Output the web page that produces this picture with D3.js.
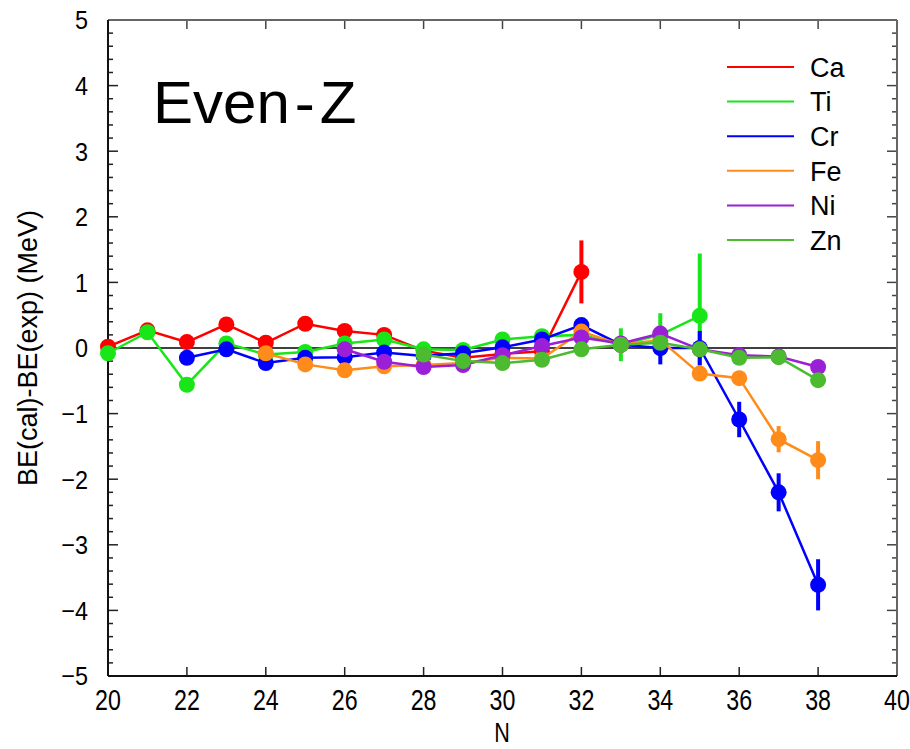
<!DOCTYPE html>
<html><head><meta charset="utf-8">
<script src="https://cdn.jsdelivr.net/npm/d3@7"></script>
<style>body{margin:0;background:#fff}</style>
</head><body>
<svg id="c" width="910" height="749"></svg>
<script>
const xTicks = [20,22,24,26,28,30,32,34,36,38,40];
const yTicks = [-5,-4,-3,-2,-1,0,1,2,3,4,5];
const elements = ["Ca","Ti","Cr","Fe","Ni","Zn"];
const colors = ["#ff0000","#19e619","#0000ff","#ff8c1a","#9b1fd6","#4cbb30"];

const caN = [20,21,22,23,24,25,26,27,28,29,30,31,32];
const caV = [0.02,0.27,0.09,0.36,0.08,0.37,0.26,0.20,-0.04,-0.15,-0.09,-0.05,1.16];
const caE = [0,0,0,0,0,0,0,0,0,0,0,0,0.48];

const tiN = [20,21,22,23,24,25,26,27,28,29,30,31,32,33,34,35];
const tiV = [-0.08,0.24,-0.56,0.07,-0.10,-0.06,0.07,0.13,-0.02,-0.03,0.13,0.18,0.20,0.05,0.20,0.49];
const tiE = [0,0,0,0,0,0,0,0,0,0,0,0,0,0.25,0.33,0.95];

const crN = [22,23,24,25,26,27,28,29,30,31,32,33,34,35,36,37,38];
const crV = [-0.15,-0.02,-0.23,-0.15,-0.14,-0.07,-0.12,-0.08,0.01,0.13,0.35,0.05,0.0,0.0,-1.09,-2.20,-3.61];
const crE = [0,0,0,0,0,0,0,0,0,0,0,0,0.25,0.26,0.27,0.29,0.39];

const feN = [24,25,26,27,28,29,30,31,32,33,34,35,36,37,38];
const feV = [-0.08,-0.25,-0.34,-0.28,-0.26,-0.23,-0.15,-0.16,0.25,0.05,0.12,-0.39,-0.46,-1.39,-1.71];
const feE = [0,0,0,0,0,0,0,0,0,0,0,0,0,0.2,0.29];

const niN = [26,27,28,29,30,31,32,33,34,35,36,37,38];
const niV = [-0.02,-0.21,-0.29,-0.26,-0.11,0.03,0.16,0.07,0.22,-0.02,-0.11,-0.13,-0.29];
const niE = [0,0,0,0,0,0,0,0,0,0,0,0,0];

const znN = [28,29,30,31,32,33,34,35,36,37,38];
const znV = [-0.10,-0.20,-0.23,-0.18,-0.02,0.05,0.08,-0.02,-0.15,-0.14,-0.49];
const znE = [0,0,0,0,0,0,0,0,0,0,0];

const seriesN = [caN,tiN,crN,feN,niN,znN];
const seriesV = [caV,tiV,crV,feV,niV,znV];
const seriesE = [caE,tiE,crE,feE,niE,znE];

const svg = d3.select("#c");
const L=108,R=897,T=20,B=676;
const x = d3.scaleLinear().domain([20,40]).range([L,R]);
const y = d3.scaleLinear().domain([-5,5]).range([B,T]);
const FONT = "Liberation Sans, Arial, Helvetica, sans-serif";

const g = svg.append("g");
g.append("line").attr("x1",L).attr("x2",R).attr("y1",y(0)).attr("y2",y(0))
 .attr("stroke","#000").attr("stroke-width",1.5);

const yMinor = d3.range(-5,5.001,0.2).map(v=>+v.toFixed(1));
yMinor.forEach(v=>{
  const major = Math.abs(v-Math.round(v))<1e-6;
  const len = major?10:5;
  g.append("line").attr("x1",L).attr("x2",L+len).attr("y1",y(v)).attr("y2",y(v)).attr("stroke","#222").attr("stroke-width",1.5);
  g.append("line").attr("x1",R).attr("x2",R-len).attr("y1",y(v)).attr("y2",y(v)).attr("stroke","#444").attr("stroke-width",1.5);
});
xTicks.forEach(v=>{
  g.append("line").attr("x1",x(v)).attr("x2",x(v)).attr("y1",B).attr("y2",B-9).attr("stroke","#222").attr("stroke-width",1.5);
  g.append("line").attr("x1",x(v)).attr("x2",x(v)).attr("y1",T).attr("y2",T+9).attr("stroke","#444").attr("stroke-width",1.5);
});

g.append("line").attr("x1",L).attr("x2",R).attr("y1",T).attr("y2",T).attr("stroke","#666").attr("stroke-width",2);
g.append("line").attr("x1",R).attr("x2",R).attr("y1",T).attr("y2",B).attr("stroke","#666").attr("stroke-width",2);
g.append("line").attr("x1",L).attr("x2",R).attr("y1",B).attr("y2",B).attr("stroke","#111").attr("stroke-width",2);
g.append("line").attr("x1",L).attr("x2",L).attr("y1",T).attr("y2",B).attr("stroke","#111").attr("stroke-width",2);

const fmt = v => v<0 ? "\u2212"+Math.abs(v) : String(v);
g.selectAll(".yl").data(yTicks).enter().append("text")
 .attr("transform",d=>`translate(88,${y(d)}) scale(0.9,1)`).attr("dy","0.36em").attr("text-anchor","end")
 .attr("font-family",FONT).attr("font-size",26).text(fmt);
g.selectAll(".xl").data(xTicks).enter().append("text")
 .attr("transform",d=>`translate(${x(d)},710) scale(0.8,1)`).attr("text-anchor","middle")
 .attr("font-family",FONT).attr("font-size",29).text(d=>d);

svg.append("text").attr("transform","translate(502,742) scale(0.8,1)").attr("text-anchor","middle")
 .attr("font-family",FONT).attr("font-size",27).text("N");
svg.append("text").attr("transform","translate(37,348) rotate(-90)").attr("text-anchor","middle")
 .attr("font-family",FONT).attr("font-size",27).text("BE(cal)-BE(exp) (MeV)");

const line = d3.line().x(d=>x(d.n)).y(d=>y(d.v));
elements.forEach((el,i)=>{
  const data = seriesN[i].map((n,j)=>({n:n,v:seriesV[i][j],e:seriesE[i][j]}));
  const sg = svg.append("g");
  sg.append("path").datum(data).attr("d",line).attr("fill","none")
    .attr("stroke",colors[i]).attr("stroke-width",2.5);
  sg.selectAll(".eb").data(data.filter(d=>d.e>0)).enter().append("line")
    .attr("x1",d=>x(d.n)).attr("x2",d=>x(d.n)).attr("y1",d=>y(d.v+d.e)).attr("y2",d=>y(d.v-d.e))
    .attr("stroke",colors[i]).attr("stroke-width",4);
  sg.selectAll("circle").data(data).enter().append("circle")
    .attr("cx",d=>x(d.n)).attr("cy",d=>y(d.v)).attr("r",8).attr("fill",colors[i]);
});

const lg = svg.append("g");
elements.forEach((el,i)=>{
  const ly = 67 + i*34.6;
  lg.append("line").attr("x1",727).attr("x2",794).attr("y1",ly).attr("y2",ly)
    .attr("stroke",colors[i]).attr("stroke-width",2);
  lg.append("text").attr("x",810).attr("y",ly).attr("dy","0.36em")
    .attr("font-family",FONT).attr("font-size",27).text(el);
});

svg.append("text").attr("x",153).attr("y",123)
 .attr("font-family",FONT).attr("font-size",60)
 .html('Even<tspan dx="5">-</tspan><tspan dx="5">Z</tspan>');
</script>
</body></html>
